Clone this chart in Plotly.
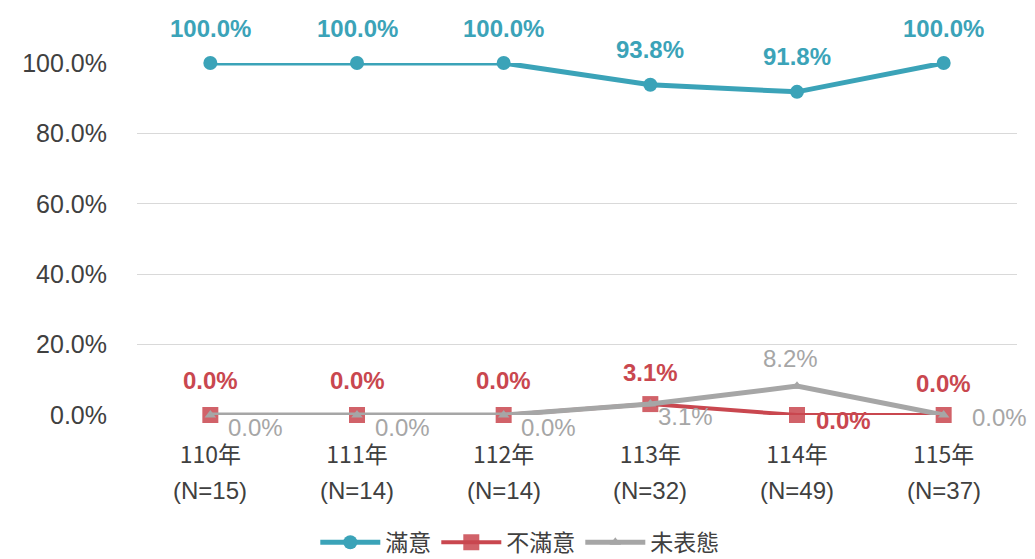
import plotly.graph_objects as go

years = ["110年", "111年", "112年", "113年", "114年", "115年"]
sample_sizes = [15, 14, 14, 32, 49, 37]
satisfied = [100.0, 100.0, 100.0, 93.8, 91.8, 100.0]
dissatisfied = [0.0, 0.0, 0.0, 3.1, 0.0, 0.0]
no_opinion = [0.0, 0.0, 0.0, 3.1, 8.2, 0.0]

TEAL = "#3ba3b8"
RED = "#c9474f"
GRAY = "#a6a6a6"
NUM_FONT = "Liberation Sans, Arial, sans-serif"
CJK_FONT = "Noto Sans CJK TC, sans-serif"
LABEL_SIZE = 24

fig = go.Figure()
fig.add_trace(go.Scatter(
    x=years, y=satisfied, name="滿意", mode="lines+markers",
    line=dict(color=TEAL, width=5), marker=dict(symbol="circle", size=14, color=TEAL),
))
fig.add_trace(go.Scatter(
    x=years, y=dissatisfied, name="不滿意", mode="lines+markers",
    line=dict(color=RED, width=4), marker=dict(symbol="square", size=16, color=RED, opacity=0.85),
))
fig.add_trace(go.Scatter(
    x=years, y=no_opinion, name="未表態", mode="lines+markers",
    line=dict(color=GRAY, width=5), marker=dict(symbol="triangle-up", size=10, color=GRAY),
))

annotations = []
# label offsets (px) for each series at each category
sat_pos = [(0, 35)] * 6
dis_pos = [(0, 35), (0, 35), (0, 35), (0, 32), (46, -5), (0, 32)]
no_pos = [(45, -12), (45, -12), (45, -12), (35, -12), (-7, 28), (56, -2)]

for i, c in enumerate(years):
    annotations.append(dict(x=c, y=satisfied[i], text=f"<b>{satisfied[i]:.1f}%</b>",
                            xshift=sat_pos[i][0], yshift=sat_pos[i][1], showarrow=False,
                            font=dict(family=NUM_FONT, size=LABEL_SIZE, color=TEAL)))
    annotations.append(dict(x=c, y=dissatisfied[i], text=f"<b>{dissatisfied[i]:.1f}%</b>",
                            xshift=dis_pos[i][0], yshift=dis_pos[i][1], showarrow=False,
                            font=dict(family=NUM_FONT, size=LABEL_SIZE, color=RED)))
    annotations.append(dict(x=c, y=no_opinion[i], text=f"{no_opinion[i]:.1f}%",
                            xshift=no_pos[i][0], yshift=no_pos[i][1], showarrow=False,
                            font=dict(family=NUM_FONT, size=LABEL_SIZE, color=GRAY)))
    # sample size line under each year
    annotations.append(dict(x=c, y=0, yref="paper", text=f"(N={sample_sizes[i]})",
                            yshift=-75, yanchor="middle", showarrow=False,
                            font=dict(family=NUM_FONT, size=24, color="#404040")))

fig.update_layout(
    width=1035, height=559,
    margin=dict(l=137, r=18, t=63, b=144),
    paper_bgcolor="white", plot_bgcolor="white",
    showlegend=True,
    legend=dict(orientation="h", x=0.435, xanchor="center",
                yref="container", y=0.03, yanchor="middle",
                font=dict(family=CJK_FONT, size=23, color="#404040"),
                itemwidth=60, tracegroupgap=0),
    annotations=annotations,
    xaxis=dict(range=[-0.5, 5.5], showgrid=False, showline=False, ticks="", zeroline=False,
               automargin=False, ticklabelstandoff=24,
               tickfont=dict(family=CJK_FONT, size=23, color="#404040")),
    yaxis=dict(range=[0, 100], tickvals=[0, 20, 40, 60, 80, 100],
               ticktext=[f"{v:.1f}%" for v in [0, 20, 40, 60, 80, 100]],
               showgrid=True, gridcolor="#d9d9d9", gridwidth=1, zeroline=False,
               ticks="", ticklabelstandoff=29, automargin=False,
               tickfont=dict(family=NUM_FONT, size=25, color="#404040")),
)
for tr in fig.data:
    tr.cliponaxis = False

fig.write_html("out.html")
